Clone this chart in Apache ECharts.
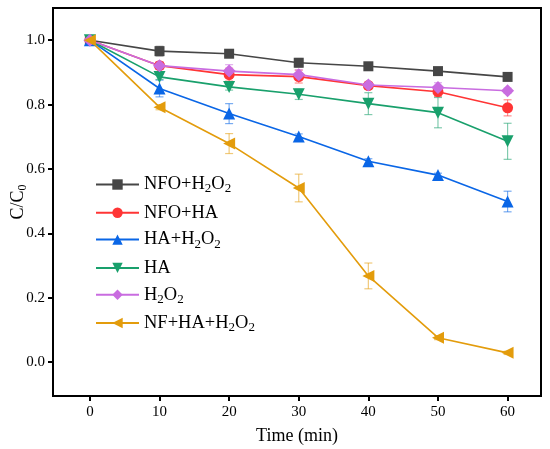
<!DOCTYPE html>
<html>
<head>
<meta charset="utf-8">
<script src="https://cdn.jsdelivr.net/npm/echarts@6/dist/echarts.min.js"></script>
<style>
  html, body { margin: 0; padding: 0; background: #fff; }
  #chart { width: 550px; height: 449px; }
</style>
</head>
<body>
<div id="chart"></div>
<script>
// 数据
var times = [0, 10, 20, 30, 40, 50, 60];
var xTicks = [0, 10, 20, 30, 40, 50, 60];
var yTicks = [0, 0.2, 0.4, 0.6, 0.8, 1.0];

var nfoH2o2 = [1.0, 0.966, 0.958, 0.930, 0.919, 0.904, 0.886];
var nfoH2o2Err = [0.005, 0.015, 0.010, 0.013, 0.006, 0.006, 0.006];
var nfoHa = [1.0, 0.921, 0.893, 0.887, 0.859, 0.840, 0.790];
var nfoHaErr = [0.005, 0.010, 0.020, 0.020, 0.010, 0.015, 0.025];
var haH2o2 = [1.0, 0.850, 0.772, 0.701, 0.624, 0.581, 0.499];
var haH2o2Err = [0.005, 0.026, 0.031, 0.008, 0.008, 0.006, 0.032];
var ha = [1.0, 0.886, 0.855, 0.832, 0.803, 0.775, 0.686];
var haErr = [0.005, 0.008, 0.010, 0.016, 0.034, 0.047, 0.056];
var h2o2 = [1.0, 0.921, 0.904, 0.893, 0.861, 0.853, 0.843];
var h2o2Err = [0.005, 0.012, 0.020, 0.015, 0.008, 0.015, 0.008];
var nfHaH2o2 = [1.0, 0.792, 0.679, 0.541, 0.268, 0.076, 0.029];
var nfHaH2o2Err = [0.005, 0.008, 0.031, 0.043, 0.040, 0.006, 0.005];

var names = ['NFO+H2O2', 'NFO+HA', 'HA+H2O2', 'HA', 'H2O2', 'NF+HA+H2O2'];
var colors = ['#464646', '#ff3535', '#0a66e6', '#19a06c', '#c96ce0', '#e39c0c'];
var values = [nfoH2o2, nfoHa, haH2o2, ha, h2o2, nfHaH2o2];
var errors = [nfoH2o2Err, nfoHaErr, haH2o2Err, haErr, h2o2Err, nfHaH2o2Err];
var symbols = ['rect', 'circle', 'triangle', 'triangle', 'diamond', 'triangle'];
var symbolSizes = [10, 11, 12, 12, 13, 12];
var rotates = [0, 0, 0, 180, 0, 90];

var font = 'Liberation Serif, Times New Roman, serif';

function pair(ys) {
  return times.map(function (t, i) { return [t, ys[i]]; });
}

// 误差棒
function errorItem(color) {
  return function (params, api) {
    var x = api.value(0);
    var lo = api.coord([x, api.value(1)]);
    var hi = api.coord([x, api.value(2)]);
    var w = 4;
    var style = { stroke: color, lineWidth: 1.2, opacity: 0.55 };
    return {
      type: 'group',
      children: [
        { type: 'line', shape: { x1: lo[0], y1: lo[1], x2: hi[0], y2: hi[1] }, style: style },
        { type: 'line', shape: { x1: lo[0] - w, y1: lo[1], x2: lo[0] + w, y2: lo[1] }, style: style },
        { type: 'line', shape: { x1: hi[0] - w, y1: hi[1], x2: hi[0] + w, y2: hi[1] }, style: style }
      ]
    };
  };
}

var series = [];
names.forEach(function (n, k) {
  series.push({
    name: 'err ' + n,
    type: 'custom',
    renderItem: errorItem(colors[k]),
    data: times.map(function (t, i) {
      return [t, values[k][i] - errors[k][i], values[k][i] + errors[k][i]];
    }),
    encode: { x: 0, y: [1, 2] },
    z: 1,
    silent: true
  });
});
names.forEach(function (n, k) {
  series.push({
    name: n,
    type: 'line',
    data: pair(values[k]),
    symbol: symbols[k],
    symbolSize: symbolSizes[k],
    symbolRotate: rotates[k],
    lineStyle: { color: colors[k], width: 1.6 },
    itemStyle: { color: colors[k] },
    z: 2
  });
});

function sub(name) {
  // H2O2 -> H{s|2}O{s|2}
  return name.replace(/2/g, '{s|2}');
}

var myChart = echarts.init(document.getElementById('chart'));
var option = {
  animation: false,
  grid: {
    left: 53, right: 9, top: 8, bottom: 53,
    outerBoundsMode: 'none',
    containLabel: false,
    show: true, borderColor: '#000', borderWidth: 2
  },
  legend: {
    orient: 'vertical',
    left: 90, top: 170,
    itemWidth: 43, itemHeight: 13, itemGap: 7.8,
    data: names,
    formatter: function (n) { return sub(n); },
    textStyle: {
      fontFamily: font, fontSize: 18.5, color: '#000',
      rich: {
        s: { fontFamily: font, fontSize: 13, verticalAlign: 'bottom', padding: [9, 0, 0, 0] }
      }
    }
  },
  xAxis: {
    type: 'value',
    min: -5.3, max: 64.8,
    name: 'Time (min)',
    nameLocation: 'middle',
    nameGap: 31,
    nameTextStyle: { fontFamily: font, fontSize: 18, color: '#000' },
    axisLine: { onZero: false, lineStyle: { color: '#000', width: 2 } },
    axisTick: { customValues: xTicks, length: 5, lineStyle: { width: 2 } },
    axisLabel: { customValues: xTicks, fontFamily: font, fontSize: 15, color: '#000', margin: 9 },
    splitLine: { show: false }
  },
  yAxis: {
    type: 'value',
    min: -0.105, max: 1.1,
    name: 'C/C{s|0}',
    nameLocation: 'middle',
    nameGap: 24,
    nameRotate: 90,
    nameMoveOverlap: false,
    nameTextStyle: {
      fontFamily: font, fontSize: 18, color: '#000',
      rich: { s: { fontFamily: font, fontSize: 12, verticalAlign: 'bottom', padding: [9, 0, 0, 0] } }
    },
    axisLine: { onZero: false, lineStyle: { color: '#000', width: 2 } },
    axisTick: { customValues: yTicks, length: 5, lineStyle: { width: 2 } },
    axisLabel: {
      customValues: yTicks, fontFamily: font, fontSize: 15, color: '#000', margin: 8,
      formatter: function (v) { return v.toFixed(1); }
    },
    splitLine: { show: false }
  },
  series: series
};
// 使用刚指定的配置项和数据显示图表。
myChart.setOption(option);
</script>
</body>
</html>
